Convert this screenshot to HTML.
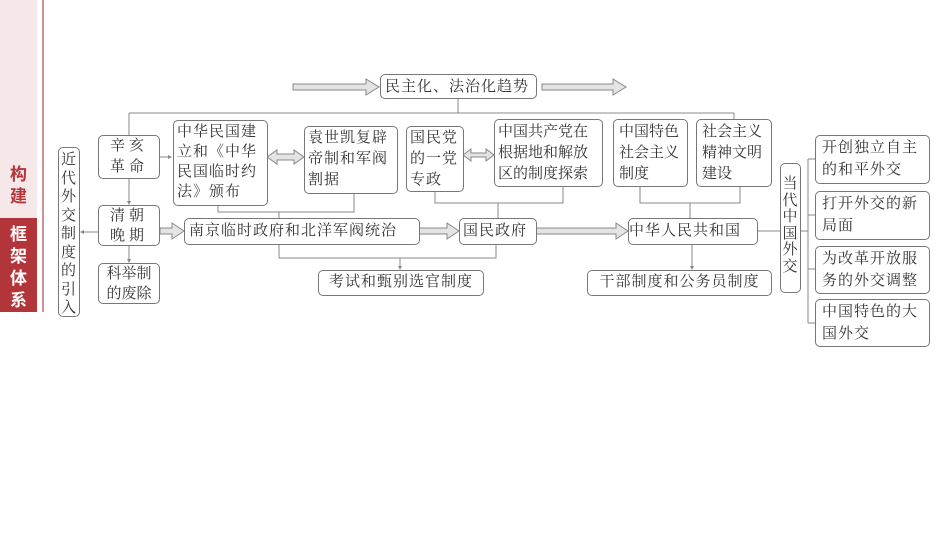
<!DOCTYPE html>
<html><head><meta charset="utf-8"><style>
body{margin:0;width:950px;height:535px;background:#fff;position:relative;overflow:hidden;font-family:"Liberation Serif","Noto Serif CJK SC","Noto Sans CJK SC",serif;color:#333}
.b{position:absolute;border:1px solid #777;border-radius:5px;background:#fff;box-sizing:border-box;font-size:15px;line-height:22px;padding:2px 4px;letter-spacing:1px;white-space:nowrap}
.c{text-align:center}
svg{position:absolute;left:0;top:0}
.side{position:absolute;left:0;top:0;width:37px;height:312px;background:#f6e8e8}
.red{position:absolute;left:0;top:218px;width:37px;height:94px;background:#b2353a}
.sl{position:absolute;left:42px;top:0;width:2px;height:312px;background:#d09094}
.st{position:absolute;left:0;width:37px;text-align:center;font-family:"Noto Sans CJK SC",sans-serif;font-weight:bold;font-size:17px;line-height:22px}
</style></head><body>
<div class="side"></div><div class="red"></div><div class="sl"></div>
<div class="st" style="top:162px;color:#b2353a">构<br>建</div>
<div class="st" style="top:222px;color:#fff">框<br>架<br>体<br>系</div>
<svg width="950" height="535">
<g fill="none" stroke="#888" stroke-width="1">
<path d="M458 98V113M129 113H734M129 113V135M734 113V119"/>
<path d="M218 205V212H354V194M279 212V218"/>
<path d="M435 191V203H563V186M498 203V218"/>
<path d="M640 186V203H740V186M690 203V218"/>
<path d="M279 244V258H496V244M400 258V268"/>
<path d="M692 244V268"/>
<path d="M160 157H170M129 178V203M129 245V261M98 232H82"/>
<path d="M757 231H780M800 231H808M808 159V323M808 159H815M808 215H815M808 269H815M808 323H815"/>
</g>
<g fill="#888">
<path d="M172 157l-4-2v4z"/><path d="M129 205l-2-4h4z"/><path d="M129 263l-2-4h4z"/><path d="M80 232l4-2v4z"/>
<path d="M400 270l-2-4h4z"/><path d="M692 270l-2-4h4z"/>
</g>
<g fill="#e4e4e4" stroke="#888" stroke-width="1">
<path d="M293 84H366V79L379 87L366 95V90H293Z"/>
<path d="M542 84H613V79L626 87L613 95V90H542Z"/>
<path d="M160 228H172V223L184 231L172 239V234H160Z"/>
<path d="M419 228H447V223L459 231L447 239V234H419Z"/>
<path d="M536 228H616V223L628 231L616 239V234H536Z"/>
<path d="M267 157L277 150V154H294V150L304 157L294 164V160H277V164Z"/>
<path d="M463 155L471 149V153H486V149L494 155L486 161V157H471V161Z"/>
</g>
</svg>
<div class="b" style="left:380px;top:74px;width:157px;height:25px;line-height:20px">民主化、法治化趋势</div>
<div class="b c" style="left:98px;top:135px;width:62px;height:44px;padding:0;line-height:21px;letter-spacing:4px">辛亥<br>革命</div>
<div class="b" style="left:173px;top:120px;width:95px;height:86px;line-height:20px;padding:1px 3px">中华民国建<br>立和《中华<br>民国临时约<br>法》颁布</div>
<div class="b" style="left:304px;top:126px;width:94px;height:68px;line-height:21px;padding:1px 3px">袁世凯复辟<br>帝制和军阀<br>割据</div>
<div class="b" style="left:406px;top:126px;width:58px;height:66px;line-height:21px;padding:1px 3px">国民党<br>的一党<br>专政</div>
<div class="b" style="left:494px;top:119px;width:109px;height:68px;line-height:21px;padding:2px 3px;letter-spacing:0">中国共产党在<br>根据地和解放<br>区的制度探索</div>
<div class="b" style="left:613px;top:119px;width:75px;height:68px;line-height:21px;padding:2px 5px;letter-spacing:0">中国特色<br>社会主义<br>制度</div>
<div class="b" style="left:696px;top:119px;width:76px;height:68px;line-height:21px;padding:2px 5px;letter-spacing:0">社会主义<br>精神文明<br>建设</div>
<div class="b c" style="left:780px;top:163px;width:21px;height:130px;padding:12px 0 0;line-height:16.5px;font-size:15px">当<br>代<br>中<br>国<br>外<br>交</div>
<div class="b" style="left:815px;top:135px;width:115px;height:49px;line-height:22px;padding:1px 6px">开创独立自主<br>的和平外交</div>
<div class="b" style="left:815px;top:191px;width:115px;height:49px;line-height:22px;padding:1px 6px">打开外交的新<br>局面</div>
<div class="b" style="left:815px;top:246px;width:115px;height:48px;line-height:22px;padding:1px 6px">为改革开放服<br>务的外交调整</div>
<div class="b" style="left:815px;top:299px;width:115px;height:48px;line-height:22px;padding:1px 6px">中国特色的大<br>国外交</div>
<div class="b c" style="left:58px;top:147px;width:22px;height:170px;padding:3px 0 0;line-height:18.5px">近<br>代<br>外<br>交<br>制<br>度<br>的<br>引<br>入</div>
<div class="b c" style="left:98px;top:205px;width:62px;height:41px;padding:0;line-height:20px;letter-spacing:4px">清朝<br>晚期</div>
<div class="b c" style="left:98px;top:263px;width:62px;height:41px;padding:0;line-height:20px;letter-spacing:0">科举制<br>的废除</div>
<div class="b" style="left:184px;top:218px;width:236px;height:27px;line-height:22px;padding:1px 4px">南京临时政府和北洋军阀统治</div>
<div class="b" style="left:459px;top:218px;width:78px;height:27px;line-height:22px;padding:1px 3px">国民政府</div>
<div class="b" style="left:628px;top:218px;width:130px;height:27px;line-height:22px;padding:1px 0">中华人民共和国</div>
<div class="b c" style="left:318px;top:270px;width:166px;height:26px;line-height:21px;padding:1px 0">考试和甄别选官制度</div>
<div class="b c" style="left:587px;top:270px;width:185px;height:26px;line-height:21px;padding:1px 0">干部制度和公务员制度</div>
</body></html>
